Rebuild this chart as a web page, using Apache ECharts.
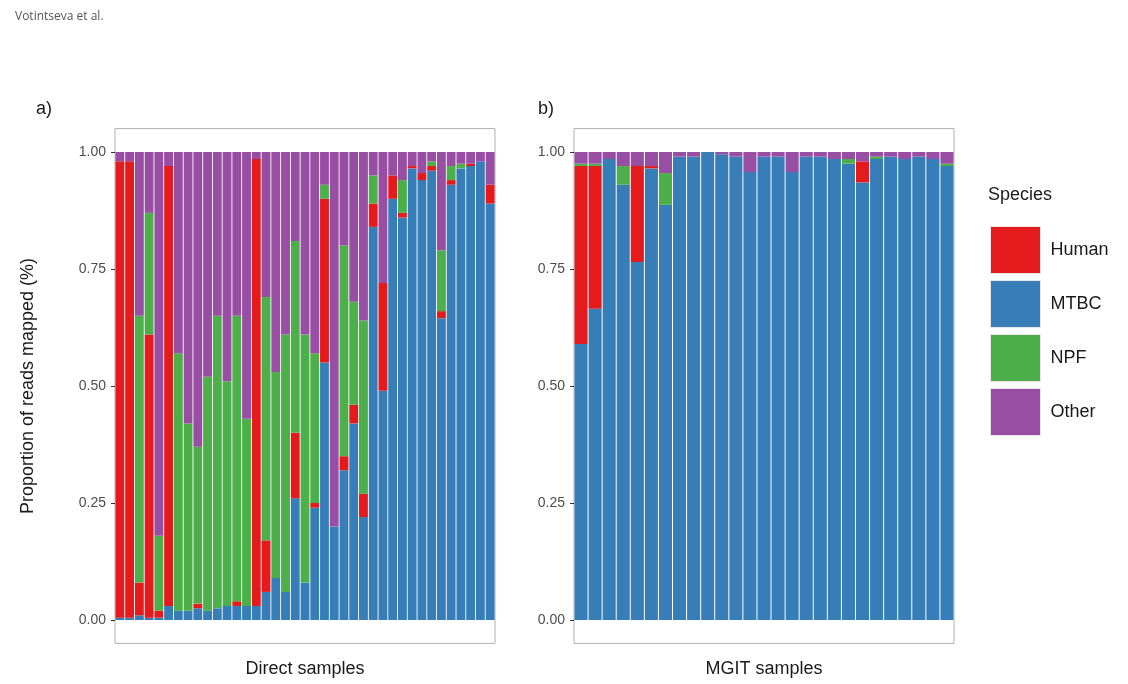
<!DOCTYPE html>
<html>
<head>
<meta charset="utf-8">
<script src="https://cdn.jsdelivr.net/npm/echarts@6/dist/echarts.min.js"></script>
<style>html,body{margin:0;padding:0;background:#fff;}#c{width:1128px;height:684px;}</style>
</head>
<body>
<div id="c"></div>
<script>
// ---- Data (proportions, stacked bottom-up: MTBC, Human, NPF, Other) ----
var speciesNames = ['Human', 'MTBC', 'NPF', 'Other'];
var yTicks = [0, 0.25, 0.5, 0.75, 1];

// Direct samples (39 bars)
var directMTBC  = [0.005,0.005,0.01,0.005,0.005,0.03,0.02,0.02,0.025,0.02,0.025,0.03,0.03,0.03,0.03,0.06,0.09,0.06,0.26,0.08,0.24,0.55,0.20,0.32,0.42,0.22,0.84,0.49,0.90,0.86,0.965,0.94,0.96,0.645,0.93,0.965,0.97,0.98,0.89];
var directHuman = [0.975,0.975,0.07,0.605,0.015,0.94,0,0,0.01,0,0,0,0.01,0,0.955,0.11,0,0,0.14,0,0.01,0.35,0,0.03,0.04,0.05,0.05,0.23,0.05,0.01,0.005,0.015,0.01,0.015,0.01,0,0.005,0,0.04];
var directNPF   = [0,0,0.57,0.26,0.16,0,0.55,0.40,0.335,0.50,0.625,0.48,0.61,0.40,0,0.52,0.44,0.55,0.41,0.53,0.32,0.03,0,0.45,0.22,0.37,0.06,0,0,0.07,0,0,0.01,0.13,0.03,0.01,0,0,0];
var directOther = [0.02,0.02,0.35,0.13,0.82,0.03,0.43,0.58,0.63,0.48,0.35,0.49,0.35,0.57,0.015,0.31,0.47,0.39,0.19,0.39,0.43,0.07,0.80,0.20,0.32,0.36,0.05,0.28,0.05,0.06,0.03,0.045,0.02,0.21,0.03,0.025,0.025,0.02,0.07];

// MGIT samples (27 bars)
var mgitMTBC  = [0.59,0.665,0.985,0.93,0.765,0.965,0.887,0.99,0.99,1,0.995,0.99,0.957,0.99,0.99,0.957,0.99,0.99,0.985,0.975,0.935,0.985,0.99,0.985,0.99,0.985,0.97];
var mgitHuman = [0.38,0.305,0,0,0.205,0.005,0,0,0,0,0,0,0,0,0,0,0,0,0,0,0.045,0,0,0,0,0,0];
var mgitNPF   = [0.005,0.005,0,0.04,0,0,0.068,0,0,0,0,0,0,0,0,0,0,0,0,0.01,0,0.005,0,0,0,0,0.005];
var mgitOther = [0.025,0.025,0.015,0.03,0.03,0.03,0.045,0.01,0.01,0,0.005,0.01,0.043,0.01,0.01,0.043,0.01,0.01,0.015,0.015,0.02,0.01,0.01,0.015,0.01,0.015,0.025];

var colors = {Human:'#E41A1C', MTBC:'#377EB8', NPF:'#4DAF4A', Other:'#984EA3'};

function cats(n){var a=[];for(var i=1;i<=n;i++)a.push('S'+i);return a;}

var FONT = '"Liberation Sans", Arial, sans-serif';

function mkSeries(gi, stack, gap, arrs){
  var order = [['MTBC',arrs[0]],['Human',arrs[1]],['NPF',arrs[2]],['Other',arrs[3]]];
  return order.map(function(o){
    return {
      type:'bar', name:o[0], stack:stack, xAxisIndex:gi, yAxisIndex:gi,
      data:o[1], barCategoryGap:gap, itemStyle:{color:colors[o[0]]},
      emphasis:{disabled:true}, animation:false
    };
  });
}

function yAx(gi){
  return {
    type:'value', gridIndex:gi, min:-0.05, max:1.05,
    splitLine:{show:false}, axisLine:{show:false},
    axisTick:{show:true, customValues:yTicks, length:4, lineStyle:{color:'#333'}},
    axisLabel:{customValues:yTicks, fontSize:14, color:'#4d4d4d', fontFamily:FONT, margin:9,
      formatter:function(v){return v.toFixed(2);}},
    name: gi===0 ? 'Proportion of reads mapped (%)' : '',
    nameLocation:'middle', nameGap:78, nameRotate:90,
    nameTextStyle:{fontSize:18, color:'#1a1a1a', fontFamily:FONT}
  };
}
function xAx(gi, n, title){
  return {
    type:'category', gridIndex:gi, data:cats(n),
    axisLine:{show:false}, axisTick:{show:false}, axisLabel:{show:false},
    name:title, nameLocation:'middle', nameGap:17,
    nameTextStyle:{fontSize:18, color:'#1a1a1a', fontFamily:FONT}
  };
}

var chart = echarts.init(document.getElementById('c'), null, {renderer:'canvas'});
chart.setOption({
  backgroundColor:'#ffffff',
  animation:false,
  grid:[
    {left:115, top:128.6, width:380, height:514.8, show:true, borderColor:'#b0b0b0', borderWidth:1, backgroundColor:'#fff'},
    {left:574, top:128.6, width:380, height:514.8, show:true, borderColor:'#b0b0b0', borderWidth:1, backgroundColor:'#fff'}
  ],
  xAxis:[xAx(0, directMTBC.length, 'Direct samples'), xAx(1, mgitMTBC.length, 'MGIT samples')],
  yAxis:[yAx(0), yAx(1)],
  legend:{
    data:speciesNames, orient:'vertical', left:990, top:226, padding:0,
    itemWidth:50, itemHeight:47, itemGap:6, icon:'rect', selectedMode:false,
    itemStyle:{borderColor:'#e6e6e6', borderWidth:1},
    textStyle:{fontSize:18, color:'#1a1a1a', fontFamily:FONT, padding:[0,0,0,5]}
  },
  graphic:[
    {type:'text', left:15, top:11, style:{text:'Votintseva et al.', fontSize:12, fill:'#555', fontFamily:'"Open Sans", sans-serif'}},
    {type:'text', left:36, top:100, style:{text:'a)', fontSize:18, fill:'#1a1a1a', fontFamily:FONT}},
    {type:'text', left:538, top:100, style:{text:'b)', fontSize:18, fill:'#1a1a1a', fontFamily:FONT}},
    {type:'text', left:988, top:186, style:{text:'Species', fontSize:18, fill:'#1a1a1a', fontFamily:FONT}}
  ],
  series:[].concat(
    mkSeries(0,'a','9%',[directMTBC,directHuman,directNPF,directOther]),
    mkSeries(1,'b','7%',[mgitMTBC,mgitHuman,mgitNPF,mgitOther])
  )
});
</script>
</body>
</html>
